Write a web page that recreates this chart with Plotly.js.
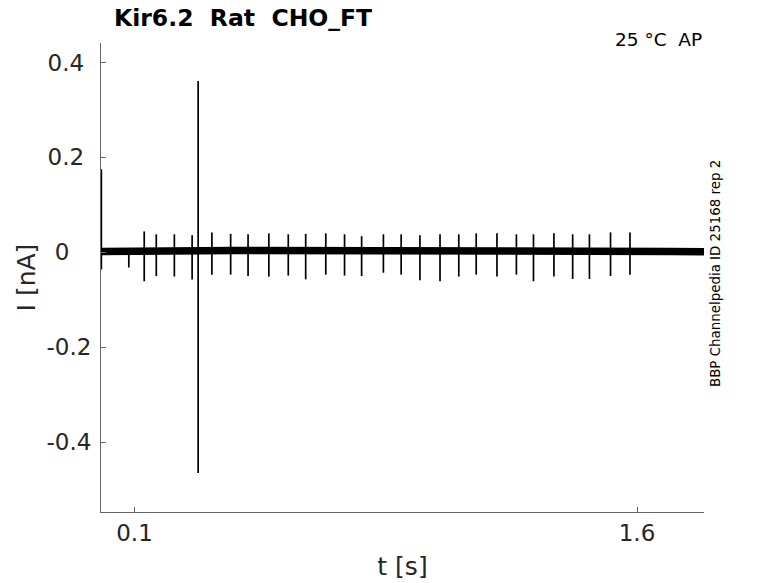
<!DOCTYPE html>
<html>
<head>
<meta charset="utf-8">
<script src="https://cdn.plot.ly/plotly-3.0.1.min.js"></script>
<style>html,body{margin:0;padding:0;background:#fff;}#chart{width:778px;height:583px;}</style>
</head>
<body>
<div id="chart"></div>
<script>
// Baseline (noise band centre) of the current trace
var baseT = [0, 0.1, 0.2, 0.4, 0.6, 0.8, 1.0, 1.2, 1.4, 1.6, 1.7, 1.8];
var baseI = [0.002, 0.001, 0.003, 0.004, 0.004, 0.005, 0.005, 0.005, 0.004, 0.003, 0.002, 0.001];

// Transient spikes: time [s], positive peak and negative peak [nA]
var spikeT = [0.001, 0.083, 0.129, 0.165, 0.219, 0.272, 0.290, 0.331, 0.387, 0.439,
              0.501, 0.559, 0.611, 0.671, 0.727, 0.778, 0.843, 0.896, 0.952, 1.012,
              1.068, 1.120, 1.182, 1.240, 1.291, 1.352, 1.408, 1.458, 1.521, 1.579];
var spikeUp = [0.175, 0.006, 0.044, 0.038, 0.038, 0.036, 0.361, 0.042, 0.039, 0.038,
               0.040, 0.038, 0.039, 0.040, 0.038, 0.034, 0.038, 0.038, 0.036, 0.038,
               0.038, 0.040, 0.040, 0.038, 0.038, 0.040, 0.038, 0.038, 0.042, 0.042];
var spikeDown = [-0.036, -0.032, -0.061, -0.050, -0.051, -0.057, -0.465, -0.047, -0.047, -0.050,
                 -0.051, -0.049, -0.057, -0.047, -0.049, -0.050, -0.043, -0.047, -0.059, -0.061,
                 -0.051, -0.047, -0.051, -0.047, -0.061, -0.051, -0.056, -0.056, -0.050, -0.047];

var xTicks = [0.1, 1.6];
var xTickText = ["0.1", "1.6"];
var yTicks = [-0.4, -0.2, 0, 0.2, 0.4];
var yTickText = ["-0.4", "-0.2", "0", "0.2", "0.4"];
// trailing padding reproduces the label alignment of the original figure
var yTickPad = ["", "", "\u00a0\u00a0\u00a0", "\u00a0", "\u00a0"];

var sx = [], sy = [];
for (var i = 0; i < spikeT.length; i++) {
  sx.push(spikeT[i], spikeT[i], null);
  sy.push(spikeUp[i], spikeDown[i], null);
}
var yTickLabels = yTickText.map(function (t, k) { return t + yTickPad[k]; });

var traces = [
  {x: baseT, y: baseI, mode: 'lines', line: {color: '#000', width: 7.5}, hoverinfo: 'skip', showlegend: false},
  {x: sx, y: sy, mode: 'lines', line: {color: '#000', width: 1.7}, connectgaps: false, hoverinfo: 'skip', showlegend: false}
];

var font = 'DejaVu Sans, Liberation Sans, sans-serif';
var layout = {
  width: 778, height: 583,
  margin: {l: 101, r: 74, t: 43, b: 71, pad: 0},
  paper_bgcolor: '#fff', plot_bgcolor: '#fff',
  showlegend: false,
  font: {family: font, color: '#262626'},
  xaxis: {
    range: [0, 1.8], showline: true, linecolor: '#666', linewidth: 1,
    ticks: 'inside', ticklen: 5, tickcolor: '#666', tickvals: xTicks, ticktext: xTickText,
    tickfont: {size: 23, color: '#262626'}, showgrid: false, zeroline: false,
    title: {text: 't [s]', font: {size: 25, color: '#262626'}, standoff: 12}
  },
  yaxis: {
    range: [-0.547, 0.441], showline: true, linecolor: '#666', linewidth: 1,
    ticks: 'inside', ticklen: 5, tickcolor: '#666', tickvals: yTicks, ticktext: yTickLabels,
    tickfont: {size: 23, color: '#262626'}, showgrid: false, zeroline: false,
    ticklabelstandoff: 4,
    title: {text: 'I [nA]', font: {size: 25, color: '#262626'}, standoff: 3}
  },
  annotations: [
    {xref: 'paper', yref: 'paper', x: 0.018, y: 1.0, xanchor: 'left', yanchor: 'bottom', yshift: 9,
     text: '<b>Kir6.2\u00a0\u00a0Rat\u00a0\u00a0CHO_FT</b>', showarrow: false,
     font: {size: 23.5, color: '#000', family: font}},
    {xref: 'paper', yref: 'paper', x: 1.0, y: 1.0, xanchor: 'right', yanchor: 'top', yshift: 16,
     text: '25 °C\u00a0\u00a0AP', showarrow: false, font: {size: 18.5, color: '#000', family: font}},
    {xref: 'paper', yref: 'paper', x: 1.0, y: 0.5, xanchor: 'left', yanchor: 'middle', xshift: 2, yshift: 4,
     text: 'BBP Channelpedia ID 25168 rep 2', textangle: -90, showarrow: false,
     font: {size: 13.4, color: '#000', family: font}}
  ]
};

Plotly.newPlot('chart', traces, layout, {staticPlot: true, displayModeBar: false});
</script>
</body>
</html>
